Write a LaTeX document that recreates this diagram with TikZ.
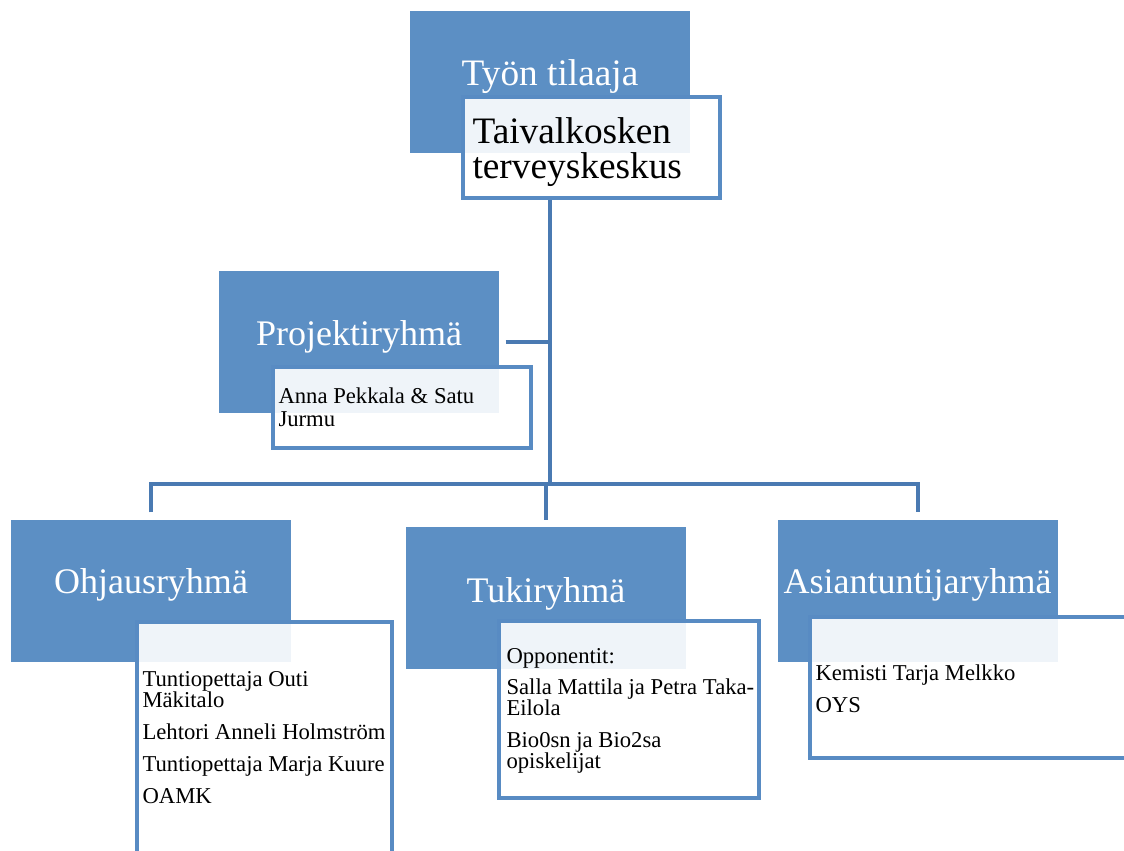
\documentclass[tikz,border=0pt]{standalone}
\usepackage{fontspec}
\setmainfont{Liberation Serif}
\usetikzlibrary{positioning}
\definecolor{orgblue}{RGB}{92,143,196}
\definecolor{orgedge}{RGB}{88,139,195}
\definecolor{orgline}{RGB}{74,122,178}

\begin{document}
\begin{tikzpicture}[x=0.75pt,y=-0.75pt,thick,
        headbox/.style={fill=orgblue,minimum width=210pt,minimum height=106.5pt,inner sep=0pt},
        headlabel/.style={text=white,anchor=base,inner sep=0pt,font=\fontsize{27}{30}\selectfont},
        infobox/.style={draw=orgedge,line width=2.6pt,fill=white,fill opacity=0.9,inner sep=0pt},
        infotext/.style={anchor=north west,align=left,inner sep=0pt,font=\fontsize{17}{15.75}\selectfont},
        link/.style={draw=orgline,line width=3pt}]
        \useasboundingbox (0,0) rectangle (1124,850);
        \clip (0,0) rectangle (1124,850);
        \node[headbox] (tilaaja) at (550,81.5) {};
        \node[headlabel,font=\fontsize{28}{30}\selectfont] (tilaaja-label) at (550,85) {Työn tilaaja};
        \node[infobox,minimum width=192.75pt,minimum height=75.75pt] (terveyskeskus) at (591.5,147.5) {};
        \node[infotext,font=\fontsize{28}{26.25}\selectfont] (terveyskeskus-text) at (472,117.5) {Taivalkosken\\terveyskeskus};

        \node[headbox] (projekti) at (358.5,342) {};
        \node[headlabel] (projekti-label) at (359,345) {Projektiryhmä};
        \node[infobox,minimum width=193.5pt,minimum height=60.75pt] (projekti-info) at (402,407.5) {};
        \node[infotext,font=\fontsize{17}{17.25}\selectfont] (projekti-text) at (278,387.5) {Anna Pekkala \& Satu\\Jurmu};

        \node[headbox] (ohjaus) at (151,590.5) {};
        \node[headlabel] (ohjaus-label) at (151,593) {Ohjausryhmä};
        \node[infobox,minimum width=191.25pt,minimum height=208.5pt] (ohjaus-info) at (264.5,761) {};
        \node[infotext] (ohjaus-text) at (142,670.5) {Tuntiopettaja Outi\\Mäkitalo\\[8.25pt]Lehtori Anneli Holmström\\[8.25pt]Tuntiopettaja Marja Kuure\\[8.25pt]OAMK};

        \node[headbox] (tuki) at (545.5,598) {};
        \node[headlabel] (tuki-label) at (546,602) {Tukiryhmä};
        \node[infobox,minimum width=195pt,minimum height=132.75pt] (tuki-info) at (629,709.5) {};
        \node[infotext] (tuki-text) at (506,647.5) {Opponentit:\\[7.5pt]Salla Mattila ja Petra Taka-\\Eilola\\[8.25pt]Bio0sn ja Bio2sa\\opiskelijat};

        \node[headbox] (asiantuntija) at (917.5,590.5) {};
        \node[headlabel] (asiantuntija-label) at (917.5,593) {Asiantuntijaryhmä};
        \node[infobox,minimum width=277.5pt,minimum height=105.75pt] (asiantuntija-info) at (995,687.5) {};
        \node[infotext] (asiantuntija-text) at (815,664.5) {Kemisti Tarja Melkko\\[8.25pt]OYS};

        \coordinate (bar) at (548,484);
        \draw[link] (tilaaja.center |- terveyskeskus.south) -- (tilaaja.center |- bar);
        \draw[link] ([xshift=5pt]projekti.east) -- (tilaaja.center |- projekti.east);
        \draw[link] ([yshift=5pt]ohjaus.north) -- (ohjaus.north |- bar) -- (asiantuntija.north |- bar) -- ([yshift=5pt]asiantuntija.north);
        \draw[link] (tuki.north |- bar) -- ([yshift=4.5pt]tuki.north);
    \end{tikzpicture}
\end{document}
